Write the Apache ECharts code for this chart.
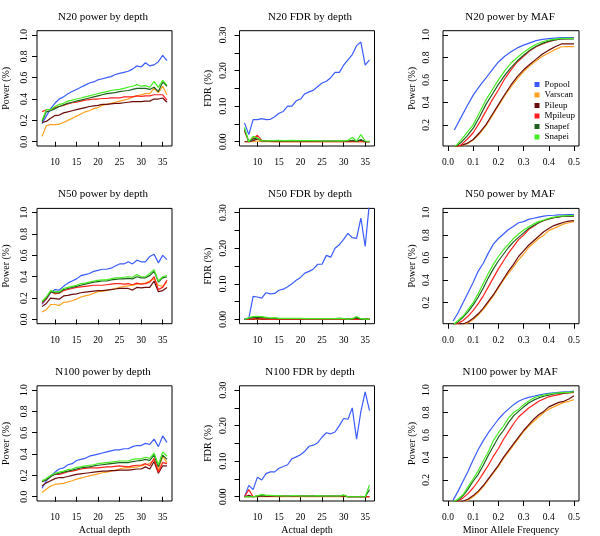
<!DOCTYPE html>
<html><head><meta charset="utf-8">
<script src="https://cdn.jsdelivr.net/npm/echarts@6/dist/echarts.min.js"></script>
<style>html,body{margin:0;padding:0;background:#fff}#c{width:600px;height:536px}</style>
</head><body><div id="c"></div>
<script>
const methods = ["Popool","Varscan","Pileup","Mpileup","Snapef","Snapei"];
const depths = [7,8,9,10,11,12,13,14,15,16,17,18,19,20,21,22,23,24,25,26,27,28,29,30,31,32,33,34,35,36];
const mafN20 = [0.025,0.05,0.075,0.1,0.125,0.15,0.175,0.2,0.225,0.25,0.275,0.3,0.325,0.35,0.375,0.4,0.425,0.45,0.475,0.5];
const mafN50 = [0.02,0.04,0.06,0.08,0.1,0.12,0.14,0.16,0.18,0.2,0.22,0.24,0.26,0.28,0.3,0.32,0.34,0.36,0.38,0.4,0.42,0.44,0.46,0.48,0.5];
const mafN100 = [0.02,0.04,0.06,0.08,0.1,0.12,0.14,0.16,0.18,0.2,0.22,0.24,0.26,0.28,0.3,0.32,0.34,0.36,0.38,0.4,0.42,0.44,0.46,0.48,0.5];

const depthTicks = [10,15,20,25,30,35];
const mafTicks = [0,0.1,0.2,0.3,0.4,0.5];
const powerTicks = [0,0.2,0.4,0.6,0.8,1.0];
const fdrTicks = [0,0.05,0.1,0.15,0.2,0.25,0.3];
const fdrLabels = [0,0.1,0.2,0.3];
const mafPowerTicks = [0.2,0.4,0.6,0.8,1.0];

// N20 power by depth
const n20pd_Popool  = [0.17,0.24,0.31,0.36,0.40,0.42,0.45,0.47,0.49,0.51,0.53,0.55,0.56,0.58,0.59,0.60,0.61,0.63,0.64,0.65,0.66,0.68,0.71,0.70,0.74,0.71,0.72,0.75,0.81,0.76];
const n20pd_Varscan = [0.05,0.15,0.16,0.16,0.165,0.18,0.20,0.22,0.24,0.26,0.28,0.29,0.31,0.32,0.34,0.35,0.36,0.37,0.38,0.39,0.40,0.42,0.43,0.44,0.45,0.45,0.50,0.46,0.52,0.44];
const n20pd_Pileup  = [0.18,0.19,0.22,0.245,0.25,0.27,0.28,0.29,0.30,0.31,0.32,0.33,0.335,0.34,0.35,0.35,0.355,0.36,0.36,0.365,0.37,0.375,0.375,0.375,0.38,0.38,0.40,0.40,0.41,0.37];
const n20pd_Mpileup = [0.28,0.30,0.30,0.32,0.33,0.34,0.355,0.365,0.37,0.38,0.39,0.395,0.40,0.40,0.405,0.405,0.41,0.41,0.41,0.42,0.42,0.42,0.43,0.425,0.43,0.43,0.44,0.44,0.44,0.39];
const n20pd_Snapef  = [0.19,0.28,0.29,0.31,0.33,0.345,0.36,0.37,0.38,0.39,0.40,0.41,0.42,0.43,0.44,0.45,0.455,0.46,0.47,0.475,0.48,0.49,0.50,0.50,0.50,0.49,0.51,0.47,0.56,0.52];
const n20pd_Snapei  = [0.20,0.30,0.30,0.33,0.35,0.36,0.38,0.39,0.40,0.41,0.42,0.43,0.44,0.45,0.46,0.47,0.48,0.485,0.49,0.50,0.51,0.52,0.535,0.52,0.525,0.51,0.565,0.51,0.575,0.53];

// N20 FDR by depth
const n20fd_Popool  = [0.053,0.02,0.062,0.062,0.065,0.062,0.063,0.07,0.08,0.085,0.10,0.10,0.115,0.12,0.135,0.14,0.145,0.155,0.165,0.17,0.18,0.195,0.195,0.215,0.23,0.245,0.27,0.28,0.215,0.23];
const n20fd_Varscan = [0,0,0,0.002,0,0,0,0,0,0,0,0,0,0,0,0,0,0,0,0,0,0,0,0,0,0,0,0,0,0];
const n20fd_Pileup  = [0,0,0.003,0.008,0.002,0.001,0.001,0.001,0.001,0.001,0.001,0.001,0.001,0.001,0.001,0.001,0.001,0.001,0.001,0.001,0.001,0.001,0.001,0.001,0.001,0.001,0.001,0.004,0,0];
const n20fd_Mpileup = [0.03,0,0.01,0.018,0.004,0.001,0.001,0,0,0,0,0,0,0,0,0,0,0,0,0,0,0,0,0,0,0,0,0,0,0];
const n20fd_Snapef  = [0.035,0,0.008,0.01,0.003,0.002,0.002,0.002,0.002,0.002,0.002,0.002,0.002,0.002,0.002,0.002,0.002,0.002,0.002,0.002,0.002,0.002,0.002,0.002,0.002,0.004,0.001,0.006,0,0];
const n20fd_Snapei  = [0.04,0,0.015,0.01,0.003,0.002,0.003,0.003,0.004,0.003,0.003,0.004,0.003,0.003,0.003,0.003,0.003,0.003,0.002,0.002,0.002,0.002,0.003,0.002,0.004,0.012,0.002,0.02,0.002,0.001];

// N20 power by MAF
const n20pm_Popool  = [0.155,0.26,0.365,0.465,0.545,0.615,0.69,0.76,0.81,0.85,0.885,0.91,0.93,0.95,0.96,0.967,0.972,0.976,0.976,0.977];
const n20pm_Varscan = [0,0.012,0.03,0.065,0.12,0.19,0.28,0.37,0.46,0.54,0.61,0.675,0.725,0.77,0.81,0.84,0.87,0.895,0.897,0.897];
const n20pm_Pileup  = [0,0.015,0.035,0.07,0.13,0.2,0.29,0.38,0.47,0.555,0.63,0.69,0.74,0.785,0.83,0.865,0.895,0.92,0.92,0.92];
const n20pm_Mpileup = [0,0.02,0.07,0.13,0.22,0.32,0.42,0.51,0.61,0.69,0.76,0.81,0.86,0.895,0.92,0.94,0.955,0.965,0.968,0.97];
const n20pm_Snapef  = [0,0.04,0.1,0.17,0.27,0.38,0.47,0.56,0.64,0.71,0.77,0.82,0.865,0.9,0.925,0.945,0.957,0.965,0.965,0.965];
const n20pm_Snapei  = [0,0.06,0.13,0.2,0.31,0.42,0.51,0.6,0.68,0.75,0.8,0.846,0.885,0.917,0.94,0.955,0.963,0.97,0.97,0.97];

// N50 power by depth
const n50pd_Popool  = [0.14,0.19,0.25,0.28,0.275,0.31,0.34,0.36,0.38,0.41,0.42,0.43,0.45,0.46,0.47,0.47,0.48,0.50,0.52,0.52,0.54,0.52,0.555,0.54,0.54,0.59,0.61,0.53,0.60,0.56];
const n50pd_Varscan = [0.07,0.09,0.14,0.14,0.13,0.16,0.165,0.175,0.19,0.21,0.22,0.23,0.245,0.26,0.265,0.27,0.28,0.29,0.30,0.31,0.315,0.32,0.33,0.335,0.34,0.36,0.38,0.32,0.31,0.35];
const n50pd_Pileup  = [0.12,0.15,0.20,0.195,0.19,0.22,0.225,0.235,0.24,0.25,0.255,0.26,0.265,0.27,0.27,0.275,0.28,0.285,0.29,0.29,0.29,0.275,0.30,0.295,0.30,0.30,0.36,0.26,0.27,0.30];
const n50pd_Mpileup = [0.15,0.19,0.26,0.24,0.245,0.27,0.28,0.29,0.30,0.305,0.31,0.315,0.32,0.32,0.32,0.325,0.33,0.335,0.335,0.33,0.335,0.325,0.34,0.33,0.335,0.35,0.40,0.28,0.30,0.37];
const n50pd_Snapef  = [0.16,0.20,0.26,0.25,0.25,0.28,0.29,0.30,0.31,0.32,0.33,0.34,0.35,0.355,0.36,0.36,0.37,0.375,0.38,0.38,0.385,0.38,0.40,0.39,0.39,0.41,0.45,0.35,0.39,0.40];
const n50pd_Snapei  = [0.17,0.21,0.27,0.26,0.26,0.29,0.30,0.31,0.32,0.335,0.34,0.35,0.36,0.365,0.37,0.37,0.38,0.39,0.39,0.395,0.40,0.395,0.42,0.40,0.40,0.43,0.465,0.36,0.40,0.41];

// N50 FDR by depth
const n50fd_Popool  = [0,0.003,0.065,0.063,0.06,0.075,0.072,0.073,0.082,0.085,0.092,0.10,0.11,0.118,0.13,0.135,0.142,0.155,0.155,0.18,0.175,0.20,0.21,0.225,0.242,0.23,0.228,0.285,0.205,0.33];
const n50fd_Varscan = [0,0,0,0,0,0,0,0,0,0,0,0,0,0,0,0,0,0,0,0,0,0,0,0,0,0,0,0,0,0];
const n50fd_Pileup  = [0,0,0.001,0.002,0.001,0.001,0.001,0.001,0.001,0.001,0.001,0.001,0.001,0.001,0.001,0.001,0.001,0.001,0.001,0.001,0.001,0.001,0.002,0.001,0.001,0.001,0.002,0.001,0,0];
const n50fd_Mpileup = [0,0,0.002,0.006,0.002,0.001,0,0,0,0,0,0,0,0,0,0,0,0,0,0,0,0,0,0,0,0.003,0,0,0,0];
const n50fd_Snapef  = [0,0.003,0.006,0.006,0.006,0.004,0.003,0.003,0.002,0.002,0.002,0.002,0.002,0.002,0.002,0.002,0.002,0.002,0.002,0.002,0.002,0.002,0.003,0.002,0.001,0.002,0.005,0.001,0.001,0.001];
const n50fd_Snapei  = [0,0.005,0.008,0.009,0.008,0.006,0.004,0.005,0.003,0.003,0.003,0.003,0.003,0.003,0.002,0.002,0.002,0.002,0.002,0.002,0.002,0.002,0.003,0.002,0.001,0.002,0.008,0.002,0.001,0.001];

// N50 power by MAF
const n50pm_Popool  = [0.036,0.11,0.2,0.29,0.38,0.48,0.55,0.64,0.72,0.77,0.81,0.85,0.88,0.91,0.92,0.94,0.95,0.96,0.97,0.975,0.977,0.98,0.98,0.982,0.982];
const n50pm_Varscan = [0,0,0.005,0.02,0.05,0.09,0.14,0.2,0.26,0.33,0.4,0.46,0.52,0.58,0.63,0.69,0.73,0.77,0.8,0.84,0.86,0.88,0.9,0.91,0.92];
const n50pm_Pileup  = [0,0,0.01,0.03,0.06,0.1,0.15,0.21,0.27,0.34,0.41,0.48,0.54,0.61,0.66,0.71,0.75,0.79,0.83,0.86,0.885,0.9,0.915,0.925,0.93];
const n50pm_Mpileup = [0,0.015,0.04,0.08,0.13,0.19,0.26,0.34,0.42,0.5,0.57,0.64,0.7,0.76,0.8,0.85,0.88,0.91,0.93,0.945,0.955,0.963,0.968,0.97,0.97];
const n50pm_Snapef  = [0,0.03,0.07,0.12,0.18,0.25,0.33,0.42,0.5,0.57,0.63,0.69,0.74,0.78,0.82,0.86,0.885,0.91,0.93,0.945,0.955,0.962,0.968,0.97,0.97];
const n50pm_Snapei  = [0,0.04,0.08,0.14,0.2,0.28,0.37,0.46,0.54,0.61,0.67,0.72,0.77,0.81,0.845,0.875,0.9,0.92,0.935,0.95,0.96,0.968,0.972,0.975,0.975];

// N100 power by depth
const n100pd_Popool  = [0.08,0.15,0.19,0.23,0.26,0.27,0.30,0.31,0.34,0.35,0.36,0.38,0.39,0.40,0.41,0.42,0.43,0.44,0.44,0.45,0.45,0.47,0.48,0.48,0.50,0.49,0.54,0.47,0.57,0.51];
const n100pd_Varscan = [0.04,0.07,0.10,0.115,0.12,0.125,0.14,0.15,0.165,0.175,0.185,0.195,0.205,0.215,0.225,0.23,0.24,0.25,0.26,0.27,0.27,0.275,0.28,0.29,0.30,0.31,0.35,0.25,0.38,0.32];
const n100pd_Pileup  = [0.10,0.13,0.15,0.17,0.18,0.18,0.19,0.20,0.21,0.215,0.22,0.225,0.23,0.235,0.24,0.24,0.245,0.245,0.25,0.25,0.25,0.255,0.26,0.26,0.28,0.26,0.33,0.22,0.29,0.29];
const n100pd_Mpileup = [0.14,0.16,0.19,0.21,0.21,0.22,0.235,0.24,0.25,0.26,0.265,0.27,0.27,0.27,0.275,0.28,0.28,0.285,0.29,0.285,0.28,0.29,0.295,0.295,0.31,0.29,0.36,0.23,0.32,0.31];
const n100pd_Snapef  = [0.14,0.16,0.19,0.21,0.22,0.23,0.24,0.25,0.26,0.27,0.275,0.28,0.29,0.295,0.30,0.305,0.31,0.315,0.32,0.32,0.32,0.33,0.335,0.34,0.35,0.34,0.39,0.28,0.39,0.35];
const n100pd_Snapei  = [0.15,0.17,0.20,0.22,0.23,0.24,0.255,0.26,0.275,0.28,0.29,0.295,0.30,0.31,0.315,0.32,0.325,0.33,0.335,0.335,0.335,0.35,0.355,0.355,0.37,0.36,0.41,0.30,0.42,0.38];

// N100 FDR by depth
const n100fd_Popool  = [0,0.032,0.02,0.055,0.047,0.065,0.07,0.07,0.08,0.085,0.09,0.107,0.112,0.118,0.128,0.142,0.145,0.152,0.168,0.18,0.177,0.182,0.20,0.22,0.218,0.25,0.162,0.24,0.295,0.242];
const n100fd_Varscan = [0,0,0,0,0,0,0,0,0,0,0,0,0,0,0,0,0,0,0,0,0,0,0,0,0,0,0,0,0,0];
const n100fd_Pileup  = [0,0.004,0,0.001,0.002,0.001,0.001,0.001,0.001,0.001,0.001,0.001,0.001,0.001,0.001,0.001,0.001,0.001,0.001,0.001,0.001,0.001,0.001,0.002,0,0,0,0,0,0];
const n100fd_Mpileup = [0,0.02,0,0.002,0.005,0.003,0.002,0.001,0.001,0.001,0.001,0.001,0.001,0.001,0.001,0.001,0.001,0.001,0.001,0.001,0.001,0.001,0.001,0.004,0,0,0,0,0,0];
const n100fd_Snapef  = [0,0,0,0.002,0.004,0.003,0.003,0.002,0.002,0.002,0.002,0.002,0.002,0.002,0.002,0.002,0.002,0.002,0.002,0.002,0.002,0.002,0.002,0.004,0,0,0,0,0,0.02];
const n100fd_Snapei  = [0,0,0,0.003,0.006,0.004,0.004,0.003,0.003,0.002,0.002,0.003,0.003,0.002,0.002,0.002,0.002,0.003,0.002,0.002,0.002,0.002,0.002,0.005,0,0,0,0,0,0.033];

// N100 power by MAF
const n100pm_Popool  = [0.02,0.1,0.19,0.28,0.38,0.47,0.55,0.62,0.68,0.74,0.79,0.83,0.87,0.9,0.92,0.935,0.945,0.955,0.965,0.97,0.975,0.98,0.985,0.985,0.99];
const n100pm_Varscan = [0,0,0.005,0.02,0.05,0.09,0.14,0.2,0.26,0.32,0.39,0.45,0.51,0.57,0.63,0.68,0.72,0.76,0.8,0.83,0.85,0.87,0.89,0.9,0.915];
const n100pm_Pileup  = [0,0,0.01,0.03,0.06,0.1,0.15,0.21,0.27,0.33,0.4,0.46,0.52,0.58,0.64,0.69,0.74,0.78,0.81,0.85,0.87,0.89,0.9,0.92,0.95];
const n100pm_Mpileup = [0,0.01,0.04,0.08,0.13,0.19,0.26,0.33,0.41,0.48,0.56,0.63,0.7,0.76,0.8,0.84,0.87,0.9,0.92,0.94,0.95,0.96,0.97,0.975,0.98];
const n100pm_Snapef  = [0,0.02,0.06,0.12,0.19,0.25,0.33,0.42,0.5,0.58,0.64,0.71,0.77,0.81,0.85,0.885,0.91,0.93,0.945,0.955,0.965,0.97,0.975,0.978,0.985];
const n100pm_Snapei  = [0,0.03,0.07,0.14,0.21,0.28,0.37,0.45,0.55,0.62,0.68,0.75,0.8,0.83,0.87,0.9,0.93,0.945,0.955,0.965,0.97,0.975,0.98,0.98,0.985];

const colors = ["#3a5cff","#ffa020","#6b0c0c","#ff2020","#1f5f1f","#45ee22"];
const FONT = "'Liberation Serif', 'Times New Roman', serif";

const panels = [
  {title:"N20 power by depth", kind:"pd", xs:depths, d:[n20pd_Popool,n20pd_Varscan,n20pd_Pileup,n20pd_Mpileup,n20pd_Snapef,n20pd_Snapei]},
  {title:"N20 FDR by depth", kind:"fd", xs:depths, d:[n20fd_Popool,n20fd_Varscan,n20fd_Pileup,n20fd_Mpileup,n20fd_Snapef,n20fd_Snapei]},
  {title:"N20 power by MAF", kind:"pm", xs:mafN20, d:[n20pm_Popool,n20pm_Varscan,n20pm_Pileup,n20pm_Mpileup,n20pm_Snapef,n20pm_Snapei]},
  {title:"N50 power by depth", kind:"pd", xs:depths, d:[n50pd_Popool,n50pd_Varscan,n50pd_Pileup,n50pd_Mpileup,n50pd_Snapef,n50pd_Snapei]},
  {title:"N50 FDR by depth", kind:"fd", xs:depths, d:[n50fd_Popool,n50fd_Varscan,n50fd_Pileup,n50fd_Mpileup,n50fd_Snapef,n50fd_Snapei]},
  {title:"N50 power by MAF", kind:"pm", xs:mafN50, d:[n50pm_Popool,n50pm_Varscan,n50pm_Pileup,n50pm_Mpileup,n50pm_Snapef,n50pm_Snapei]},
  {title:"N100 power by depth", kind:"pd", xs:depths, d:[n100pd_Popool,n100pd_Varscan,n100pd_Pileup,n100pd_Mpileup,n100pd_Snapef,n100pd_Snapei]},
  {title:"N100 FDR by depth", kind:"fd", xs:depths, d:[n100fd_Popool,n100fd_Varscan,n100fd_Pileup,n100fd_Mpileup,n100fd_Snapef,n100fd_Snapei]},
  {title:"N100 power by MAF", kind:"pm", xs:mafN100, d:[n100pm_Popool,n100pm_Varscan,n100pm_Pileup,n100pm_Mpileup,n100pm_Snapef,n100pm_Snapei]}
];

const colLeft = [36.5, 239.5, 443];
const colWidth = [135.5, 135, 136];
const rowTop = [30.7, 208.4, 385.8];
const rowH = 115.3;
const titleCenter = [98, 305, 505];
const yLabelMargin = [8, 11, 12];

const grid = [], xAxis = [], yAxis = [], title = [], series = [];
const tickStyle = {show:true, inside:false, length:5, lineStyle:{color:"#000", width:1}};
const lblStyle = {fontFamily:FONT, fontSize:9.5, color:"#000"};

panels.forEach((p, i) => {
  const r = Math.floor(i/3), c = i%3;
  grid.push({left:colLeft[c], top:rowTop[r], width:colWidth[c], height:rowH, show:true, borderColor:"#000", borderWidth:1, backgroundColor:"transparent", containLabel:false});
  title.push({text:p.title, left:titleCenter[c], top:rowTop[r]-24.5, textAlign:"center",
    textStyle:{fontFamily:FONT, fontSize:11, fontWeight:"normal", color:"#000"}});
  const isMaf = p.kind === "pm";
  const xa = {gridIndex:i, type:"value",
    min: isMaf ? -0.02 : 5.84, max: isMaf ? 0.52 : 37.16,
    axisLine:{show:false}, splitLine:{show:false},
    axisTick:Object.assign({customValues: isMaf ? mafTicks : depthTicks}, tickStyle),
    axisLabel:Object.assign({customValues: isMaf ? mafTicks : depthTicks, margin:11.5,
      formatter: v => isMaf ? v.toFixed(1) : String(v)}, lblStyle)};
  if (r === 2) {
    xa.name = isMaf ? "Minor Allele Frequency" : "Actual depth";
    xa.nameLocation = "middle"; xa.nameGap = 24;
    xa.nameTextStyle = {fontFamily:FONT, fontSize:10, color:"#000"};
  }
  xAxis.push(xa);
  let ya;
  if (p.kind === "pd") {
    ya = {min:-0.04, max:1.04, ticks:powerTicks, labels:powerTicks, fmt: v => v.toFixed(1), name:"Power (%)"};
  } else if (p.kind === "fd") {
    ya = {min:-0.012, max:0.312, ticks:fdrTicks, labels:fdrLabels, fmt: v => v.toFixed(2), name:"FDR (%)"};
  } else {
    ya = {min:0.012, max:1.038, ticks:mafPowerTicks, labels:mafPowerTicks, fmt: v => v.toFixed(1), name:"Power (%)"};
  }
  yAxis.push({gridIndex:i, type:"value", min:ya.min, max:ya.max,
    axisLine:{show:false}, splitLine:{show:false},
    axisTick:Object.assign({customValues:ya.ticks}, tickStyle),
    axisLabel:Object.assign({customValues:ya.labels, rotate:90, margin:yLabelMargin[c], formatter:ya.fmt}, lblStyle),
    name:ya.name, nameLocation:"middle", nameGap:26, nameRotate:90,
    nameTextStyle:{fontFamily:FONT, fontSize:10, color:"#000"}});
  p.d.forEach((vals, m) => {
    series.push({type:"line", name:methods[m], xAxisIndex:i, yAxisIndex:i,
      data:p.xs.map((x, k) => [x, vals[k]]),
      symbol:"none", clip:true, animation:false,
      lineStyle:{width:1.2, color:colors[m]}, itemStyle:{color:colors[m]}});
  });
});

const chart = echarts.init(document.getElementById("c"), null, {renderer:"canvas"});
chart.setOption({
  animation:false,
  backgroundColor:"#fff",
  title, grid, xAxis, yAxis, series,
  legend:{data:methods, orient:"vertical", left:529.5, top:75, itemWidth:5, itemHeight:5, itemGap:1.5,
    icon:"rect", selectedMode:false,
    textStyle:{fontFamily:FONT, fontSize:9, lineHeight:9, color:"#000"}}
});
</script>
</body></html>
